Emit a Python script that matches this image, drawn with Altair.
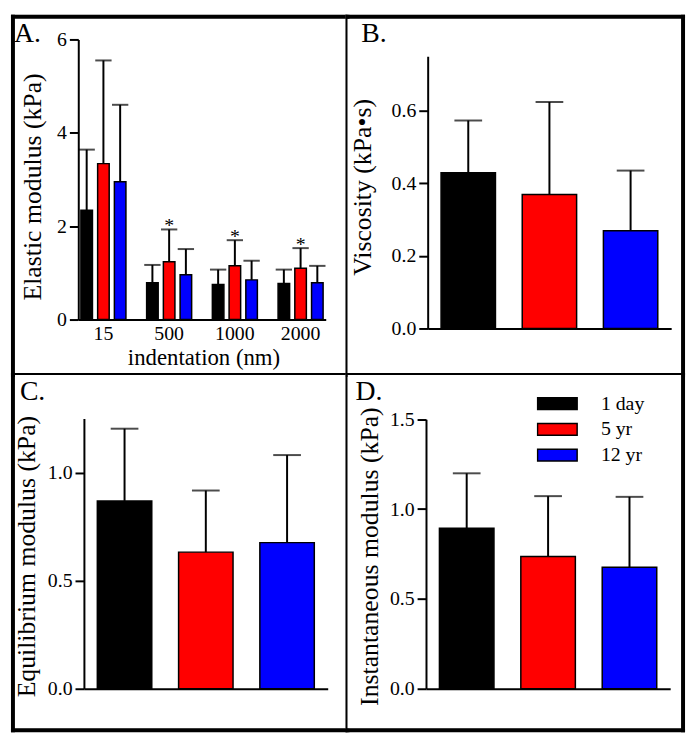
import altair as alt
import pandas as pd

FONT = "Liberation Serif"

groups = ["1 day", "5 yr", "12 yr"]
colors = ["#000000", "#ff0000", "#0000ff"]

# Panel A: elastic modulus vs indentation depth
depths = ["15", "500", "1000", "2000"]
elastic_1day = [2.34, 0.79, 0.75, 0.77]
elastic_1day_sd = [1.30, 0.38, 0.32, 0.30]
elastic_5yr = [3.34, 1.24, 1.15, 1.10]
elastic_5yr_sd = [2.21, 0.69, 0.55, 0.43]
elastic_12yr = [2.95, 0.96, 0.85, 0.79]
elastic_12yr_sd = [1.65, 0.55, 0.41, 0.36]
sig_5yr = ["", "*", "*", "*"]

# Panels B-D
viscosity = [0.429, 0.369, 0.269]
viscosity_sd = [0.144, 0.255, 0.166]
equilibrium = [0.869, 0.632, 0.676]
equilibrium_sd = [0.334, 0.285, 0.405]
instantaneous = [0.894, 0.736, 0.676]
instantaneous_sd = [0.305, 0.336, 0.392]

rows = []
for g, m, s, sig in [
    ("1 day", elastic_1day, elastic_1day_sd, [""] * 4),
    ("5 yr", elastic_5yr, elastic_5yr_sd, sig_5yr),
    ("12 yr", elastic_12yr, elastic_12yr_sd, [""] * 4),
]:
    for d, mv, sv, sg in zip(depths, m, s, sig):
        rows.append({"depth": d, "group": g, "mean": mv, "cap": mv + sv, "sig": sg})
dfA = pd.DataFrame(rows)


def simple_df(means, sds):
    return pd.DataFrame({"group": groups, "mean": means,
                         "cap": [m + s for m, s in zip(means, sds)]})


one = pd.DataFrame({"k": [0]})
color_scale = alt.Scale(domain=groups, range=colors)

legend = alt.Legend(title=None, orient="none", legendX=531, legendY=383,
                    symbolType="M-1,-0.3H1V0.3H-1Z", symbolSize=1600,
                    symbolStrokeColor="black", symbolStrokeWidth=1.5, symbolOpacity=1,
                    labelFont=FONT, labelFontSize=20, labelColor="black", labelOffset=23,
                    clipHeight=20, rowPadding=6, padding=0)


def y_axis(title, values, fmt, offset, tx, ty):
    return alt.Axis(title=title, values=values, format=fmt, orient="left", offset=offset,
                    grid=False, domainColor="black", domainWidth=2, tickColor="black",
                    tickWidth=2, tickSize=9, labelPadding=3, labelFont=FONT, labelFontSize=20,
                    labelColor="black", titleFont=FONT, titleFontSize=26,
                    titleFontWeight="normal", titleColor="black", titleX=tx, titleY=ty,
                    titleAngle=270, titleBaseline="middle", titleAlign="center")


def edge_rules(W, H, edges):
    # edges: list of (side, position, width) in the cell's own pixels
    layers = []
    for side, pos, sw in edges:
        if side == "v":
            enc = dict(x=alt.value(pos), y=alt.value(0), y2=alt.value(H + 4))
        else:
            enc = dict(y=alt.value(pos), x=alt.value(0), x2=alt.value(W + 4))
        layers.append(alt.Chart(one).mark_rule(color="black", strokeWidth=sw).encode(**enc))
    return layers


def panel_label(text, x, y):
    return alt.Chart(one).mark_text(text=text, align="left", baseline="alphabetic",
                                    font=FONT, fontSize=28, color="black").encode(
        x=alt.value(x), y=alt.value(y))


# ---------- Panel A ----------
WA, HA = 338, 362
yA_scale = alt.Scale(domain=[0, 6], range=[308, 25], nice=False)
yA_axis = y_axis("Elastic modulus (kPa)", [0, 2, 4, 6], "d", -68, -46, 173.5)
xA = alt.X("depth:N", sort=depths,
           scale=alt.Scale(range=[68, 318], paddingInner=0.315, paddingOuter=0.04),
           axis=alt.Axis(orient="bottom", offset=-54, ticks=False, tickSize=0, labelAngle=0,
                         domainColor="black", domainWidth=2, labelFont=FONT,
                         labelFontSize=20, labelColor="black", labelPadding=20,
                         labelBaseline="alphabetic",
                         title="indentation (nm)", titleFont=FONT, titleFontSize=23,
                         titleFontWeight="normal", titleColor="black", titleX=194.5,
                         titleY=45, titleBaseline="alphabetic", titleAlign="center"))
xoA = alt.XOffset("group:N", sort=groups, scale=alt.Scale(paddingInner=0.31, paddingOuter=0))
baseA = alt.Chart(dfA).encode(x=xA, xOffset=xoA)
barsA = baseA.mark_bar(stroke="black", strokeWidth=1.5).encode(
    y=alt.Y("mean:Q", scale=yA_scale, axis=yA_axis),
    color=alt.Color("group:N", scale=color_scale, legend=legend))
errA = baseA.mark_rule(color="black", strokeWidth=2).encode(
    y=alt.Y("mean:Q", scale=yA_scale, axis=yA_axis), y2="cap:Q")
capA = baseA.mark_tick(color="black", thickness=2, size=16.5).encode(
    y=alt.Y("cap:Q", scale=yA_scale, axis=yA_axis))
starA = baseA.mark_text(font=FONT, fontSize=20, baseline="alphabetic", dy=3,
                        color="black").encode(
    y=alt.Y("cap:Q", scale=yA_scale, axis=yA_axis), text="sig:N").transform_filter(
    "datum.sig != ''")
chartA = alt.layer(barsA, errA, capA, starA,
                   *edge_rules(WA, HA, [("v", 2, 4), ("h", 2, 4)]),
                   panel_label("A.", 3, 28)).properties(width=WA, height=HA)


def simple_panel(df, W, H, title, ydom, yrange, yvals, yoff, tx, ty, xrange, xoff,
                 edges, label, lx, ly):
    ysc = alt.Scale(domain=ydom, range=yrange, nice=False)
    yax = y_axis(title, yvals, ".1f", yoff, tx, ty)
    x = alt.X("group:N", sort=groups,
              scale=alt.Scale(range=xrange, paddingInner=0.33, paddingOuter=0.165),
              axis=alt.Axis(orient="bottom", offset=xoff, labels=False, ticks=False,
                            title=None, domainColor="black", domainWidth=2))
    base = alt.Chart(df).encode(x=x)
    bars = base.mark_bar(stroke="black", strokeWidth=1.5).encode(
        y=alt.Y("mean:Q", scale=ysc, axis=yax),
        color=alt.Color("group:N", scale=color_scale, legend=legend))
    err = base.mark_rule(color="black", strokeWidth=2).encode(
        y=alt.Y("mean:Q", scale=ysc, axis=yax), y2="cap:Q")
    cap = base.mark_tick(color="black", thickness=2, size=28).encode(
        y=alt.Y("cap:Q", scale=ysc, axis=yax))
    return alt.layer(bars, err, cap, *edge_rules(W, H, edges),
                     panel_label(label, lx, ly)).properties(width=W, height=H)


WB, HB = 339, 362
WC, HC = 338, 359
WD, HD = 339, 359

chartB = simple_panel(simple_df(viscosity, viscosity_sd), WB, HB,
                      "Viscosity (kPa\u2022s)", [0, 0.75], [317, 42], [0, 0.2, 0.4, 0.6],
                      -83, -66, 174, [83, 329], -45,
                      [("v", 1, 2), ("h", 2, 4), ("v", WB + 2, 4)], "B.", 16, 28)
chartC = simple_panel(simple_df(equilibrium, equilibrium_sd), WC, HC,
                      "Equilibrium modulus (kPa)", [0, 1.25], [319, 46], [0, 0.5, 1.0],
                      -73.7, -57.7, 185, [73.7, 320], -40,
                      [("v", 2, 4), ("h", 1, 2), ("h", HC + 2, 4)], "C.", 9, 27)
chartD = simple_panel(simple_df(instantaneous, instantaneous_sd), WD, HD,
                      "Instantaneous modulus (kPa)", [0, 1.5], [319, 46.7],
                      [0, 0.5, 1.0, 1.5], -81.3, -57.3, 185, [81.3, 328], -40,
                      [("v", 1, 2), ("h", 1, 2), ("v", WD + 2, 4), ("h", HD + 2, 4)],
                      "D.", 10, 27)

guide_font = {"font": FONT}
chart = alt.concat(chartA, chartB, chartC, chartD, columns=2, spacing=0, bounds="flush",
                   padding=0).configure_view(strokeWidth=0).configure(
    background="white", font=FONT,
    style={"guide-label": guide_font, "guide-title": guide_font}
).configure_axis(labelFont=FONT, titleFont=FONT
).configure_text(font=FONT).configure_legend(labelFont=FONT)

chart.save("out.html", embed_options={"renderer": "svg", "actions": False})
